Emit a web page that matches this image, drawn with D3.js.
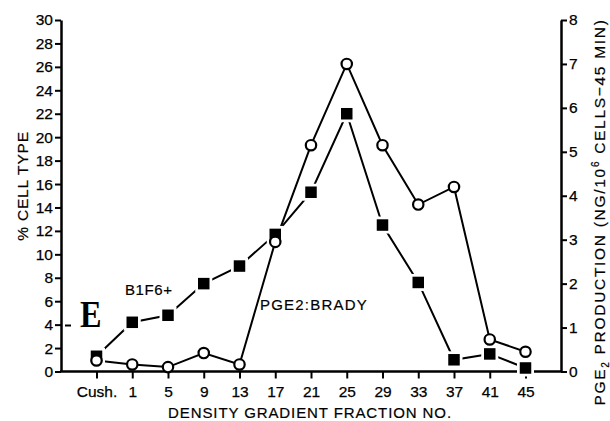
<!DOCTYPE html>
<html><head><meta charset="utf-8">
<script src="https://cdn.jsdelivr.net/npm/d3@7"></script>
<style>
html,body{margin:0;padding:0;background:#fff;}
text{font-family:"Liberation Sans",Arial,Helvetica,sans-serif;fill:#000;}
</style></head>
<body>
<svg id="chart" width="610" height="421"></svg>
<script>
const categories = ["Cush.", "1", "5", "9", "13", "17", "21", "25", "29", "33", "37", "41", "45"];
const b1f6Values = [1.3, 4.2, 4.8, 7.5, 9.0, 11.7, 15.3, 22.0, 12.5, 7.6, 1.0, 1.5, 0.3];
const pgeValues = [0.25, 0.16, 0.1, 0.42, 0.16, 2.95, 5.15, 7.0, 5.15, 3.8, 4.2, 0.73, 0.45];
const leftTicks = d3.range(0, 31, 2);
const rightTicks = d3.range(0, 9, 1);

const svg = d3.select("#chart");
const L = 61, R = 561, T = 20, B = 371.5;

const x = d3.scalePoint().domain(categories).range([96.5, 525.5]);
const yL = d3.scaleLinear().domain([0, 30]).range([B, T]);
const yR = d3.scaleLinear().domain([0, 8]).range([B, T]);

// axes
const axL = svg.append("g").attr("transform", `translate(${L},0)`)
  .call(d3.axisLeft(yL).tickValues(leftTicks).tickSize(6).tickSizeOuter(0).tickPadding(2));
const axR = svg.append("g").attr("transform", `translate(${R},0)`)
  .call(d3.axisRight(yR).tickValues(rightTicks).tickSize(6).tickSizeOuter(0).tickPadding(2));
const axB = svg.append("g").attr("transform", `translate(0,${B})`)
  .call(d3.axisBottom(x).tickSize(7).tickSizeOuter(0).tickPadding(7));
axB.select(".domain").remove();
[axL, axR, axB].forEach(g => {
  g.selectAll(".domain").attr("stroke", "#000").attr("stroke-width", 2.5);
  g.selectAll(".tick line").attr("stroke", "#000").attr("stroke-width", 2);
  g.selectAll(".tick text").attr("font-size", 15.5).attr("fill", "#000")
    .attr("stroke", "#000").attr("stroke-width", 0.25)
    .style("font-family", '"Liberation Sans",Arial,sans-serif');
});
svg.append("line").attr("x1", L - 1).attr("x2", R + 1).attr("y1", B).attr("y2", B)
  .attr("stroke", "#000").attr("stroke-width", 2.5);

// series lines
const lineB = d3.line().x((d, i) => x(categories[i])).y(d => yL(d));
const lineP = d3.line().x((d, i) => x(categories[i])).y(d => yR(d));
svg.append("path").datum(b1f6Values).attr("d", lineB).attr("fill", "none")
  .attr("stroke", "#000").attr("stroke-width", 2);
svg.append("path").datum(pgeValues).attr("d", lineP).attr("fill", "none")
  .attr("stroke", "#000").attr("stroke-width", 2);

// squares with white halo
const sq = 11.5, halo = 17;
svg.append("g").selectAll("rect").data(b1f6Values).join("rect")
  .attr("x", (d, i) => x(categories[i]) - halo / 2).attr("y", d => yL(d) - halo / 2)
  .attr("width", halo).attr("height", halo).attr("fill", "#fff");
svg.append("g").selectAll("rect").data(b1f6Values).join("rect")
  .attr("x", (d, i) => x(categories[i]) - sq / 2).attr("y", d => yL(d) - sq / 2)
  .attr("width", sq).attr("height", sq).attr("fill", "#000");
// circles
svg.append("g").selectAll("circle").data(pgeValues).join("circle")
  .attr("cx", (d, i) => x(categories[i])).attr("cy", d => yR(d)).attr("r", 5.2)
  .attr("fill", "#fff").attr("stroke", "#000").attr("stroke-width", 2.2);

// series labels
svg.append("text").attr("x", 125).attr("y", 295).attr("font-size", 15)
  .attr("stroke", "#000").attr("stroke-width", 0.2)
  .attr("letter-spacing", 0.6).text("B1F6+");
svg.append("text").attr("x", 260).attr("y", 310).attr("font-size", 15)
  .attr("stroke", "#000").attr("stroke-width", 0.2)
  .attr("letter-spacing", 1.2).text("PGE2:BRADY");

// panel letter
svg.append("line").attr("x1", 65).attr("x2", 71).attr("y1", 325.5).attr("y2", 325.5)
  .attr("stroke", "#000").attr("stroke-width", 2);
svg.append("text").attr("transform", "translate(80,327) scale(0.85,1)").attr("font-size", 38)
  .attr("font-weight", "bold").style("font-family", '"Liberation Serif","Times New Roman",serif')
  .text("E");

// axis titles
svg.append("text").attr("text-anchor", "middle").attr("font-size", 15.5)
  .attr("stroke", "#000").attr("stroke-width", 0.2)
  .attr("letter-spacing", 0.8)
  .attr("transform", "translate(28,186) rotate(-90)").text("% CELL TYPE");
svg.append("text").attr("text-anchor", "middle").attr("font-size", 15)
  .attr("stroke", "#000").attr("stroke-width", 0.2)
  .attr("letter-spacing", 0.9).attr("x", 310).attr("y", 418)
  .text("DENSITY GRADIENT FRACTION NO.");

const rt = svg.append("text").attr("text-anchor", "middle").attr("font-size", 15.5)
  .attr("stroke", "#000").attr("stroke-width", 0.2)
  .attr("letter-spacing", 1.7)
  .attr("transform", "translate(605,212) rotate(-90)");
rt.append("tspan").text("PGE");
rt.append("tspan").attr("font-size", 10).attr("dy", 4).text("2");
rt.append("tspan").attr("dy", -4).text(" PRODUCTION (NG/10");
rt.append("tspan").attr("font-size", 10).attr("dy", -6).text("6");
rt.append("tspan").attr("dy", 6).text(" CELLS\u221245 MIN)");
</script>
</body></html>
